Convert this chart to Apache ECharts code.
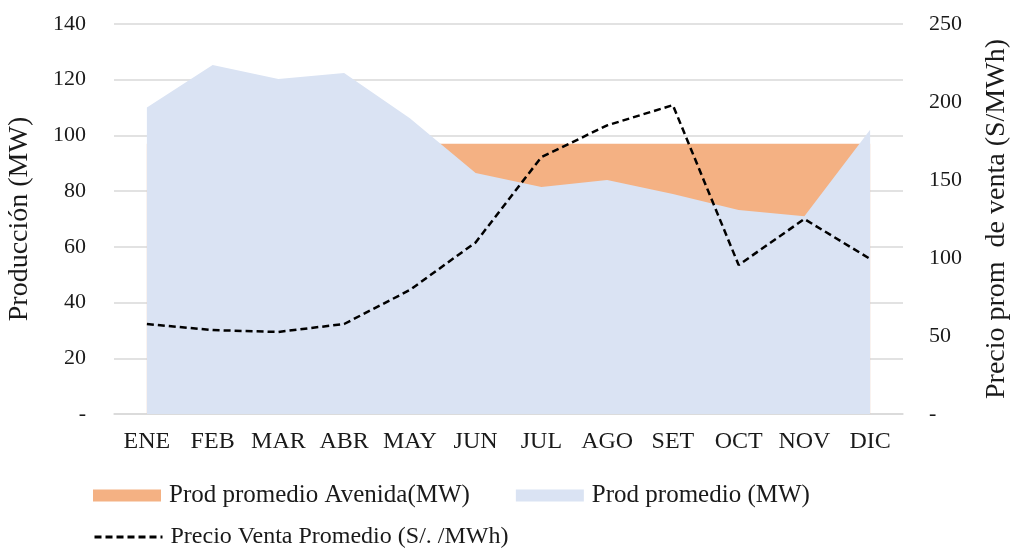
<!DOCTYPE html>
<html lang="es">
<head>
    <meta charset="UTF-8">
    <title>Producción y precio</title>
</head>
<body style="margin:0">
<div id="chart" style="width:1010px;height:550px;"></div>
<script src="https://cdn.jsdelivr.net/npm/echarts@6/dist/echarts.min.js"></script>
<script>
    var meses = ['ENE', 'FEB', 'MAR', 'ABR', 'MAY', 'JUN', 'JUL', 'AGO', 'SET', 'OCT', 'NOV', 'DIC'];
    var prodAvenida = [97, 97, 97, 97, 97, 97, 97, 97, 97, 97, 97, 97];
    var prodPromedio = [110, 125.3, 120.3, 122.4, 106.2, 86.5, 81.5, 84, 79, 73.2, 71, 102];
    var precioVenta = [57.7, 53.8, 52.6, 57.7, 79.5, 110, 164.7, 185, 198, 95.5, 125, 99.4];

    var fuente = 'Liberation Serif';
    var txt = '#1a1a1a';

    function guion(v) { return v === 0 ? '-' : v; }

    var chart = echarts.init(document.getElementById('chart'));
    chart.setOption({
        animation: false,
        textStyle: {fontFamily: fuente},
        grid: {left: 114, right: 107, top: 24, bottom: 136, outerBoundsMode: 'none', containLabel: false},
        legend: [
            {
                left: 88, top: 478,
                icon: 'rect',
                itemWidth: 68, itemHeight: 12, itemGap: 46,
                textStyle: {fontFamily: fuente, fontSize: 25, color: txt, padding: [0, 0, 0, 3]},
                data: ['Prod promedio Avenida(MW)', 'Prod promedio (MW)']
            },
            {
                left: 88, top: 520,
                itemWidth: 68, itemHeight: 12,
                itemStyle: {opacity: 0},
                lineStyle: {width: 3, type: [7, 4], color: '#000'},
                textStyle: {fontFamily: fuente, fontSize: 24, color: txt, padding: [0, 0, 0, 3]},
                data: ['Precio Venta Promedio (S/. /MWh)']
            }
        ],
        xAxis: {
            type: 'category',
            data: meses,
            axisTick: {show: false},
            axisLine: {lineStyle: {color: '#d9d9d9', width: 1.5}},
            axisLabel: {fontFamily: fuente, fontSize: 24, color: txt, margin: 16, interval: 0}
        },
        yAxis: [
            {
                type: 'value', min: 0, max: 140, interval: 20,
                name: 'Producción (MW)', nameLocation: 'middle', nameGap: 80,
                nameTextStyle: {fontFamily: fuente, fontSize: 28, color: txt},
                axisLabel: {fontFamily: fuente, fontSize: 22, color: txt, margin: 28, formatter: guion},
                splitLine: {lineStyle: {color: '#d9d9d9', width: 1.5}}
            },
            {
                type: 'value', min: 0, max: 250, interval: 50,
                name: 'Precio prom  de venta (S/MWh)', nameLocation: 'middle', nameGap: 80,
                nameTextStyle: {fontFamily: fuente, fontSize: 28, color: txt},
                axisLabel: {fontFamily: fuente, fontSize: 22, color: txt, margin: 26, formatter: guion},
                splitLine: {show: false}
            }
        ],
        series: [
            {
                name: 'Prod promedio Avenida(MW)',
                type: 'line',
                data: prodAvenida,
                symbol: 'none',
                lineStyle: {width: 0},
                itemStyle: {color: '#f4b183'},
                areaStyle: {color: '#f4b183', opacity: 1}
            },
            {
                name: 'Prod promedio (MW)',
                type: 'line',
                data: prodPromedio,
                symbol: 'none',
                lineStyle: {width: 0},
                itemStyle: {color: '#dae3f3'},
                areaStyle: {color: '#dae3f3', opacity: 1}
            },
            {
                name: 'Precio Venta Promedio (S/. /MWh)',
                type: 'line',
                yAxisIndex: 1,
                data: precioVenta,
                symbol: 'none',
                itemStyle: {color: '#000'},
                lineStyle: {color: '#000', width: 2.5, type: [7, 4]}
            }
        ]
    });
</script>
</body>
</html>
